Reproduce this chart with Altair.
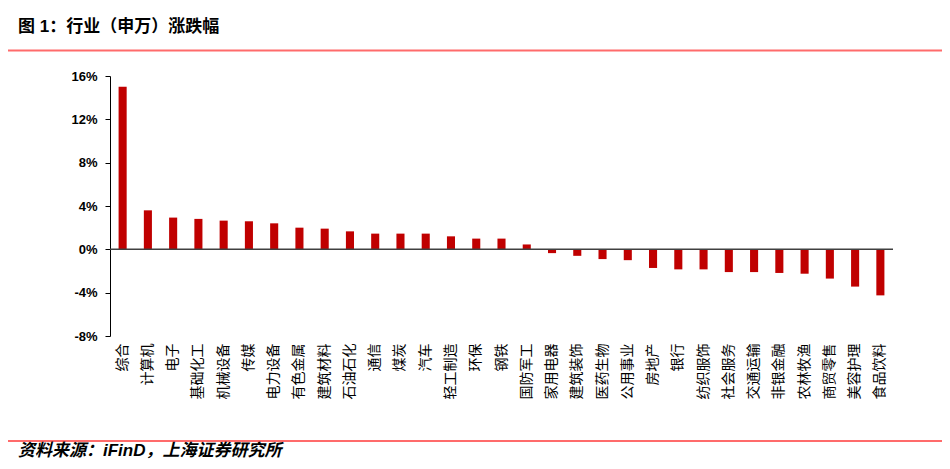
import altair as alt
import pandas as pd

CATEGORIES = ["综合", "计算机", "电子", "基础化工", "机械设备", "传媒", "电力设备", "有色金属",
              "建筑材料", "石油石化", "通信", "煤炭", "汽车", "轻工制造", "环保", "钢铁",
              "国防军工", "家用电器", "建筑装饰", "医药生物", "公用事业", "房地产", "银行",
              "纺织服饰", "社会服务", "交通运输", "非银金融", "农林牧渔", "商贸零售",
              "美容护理", "食品饮料"]
VALUES = [15.0, 3.6, 2.93, 2.81, 2.65, 2.59, 2.4, 2.0, 1.91, 1.66, 1.45, 1.45, 1.45,
          1.2, 0.99, 0.99, 0.45, -0.35, -0.6, -0.9, -1.0, -1.72, -1.85, -1.85, -2.1,
          -2.1, -2.18, -2.25, -2.7, -3.44, -4.25]
Y_TICKS = [-8, -4, 0, 4, 8, 12, 16]
TITLE = "图 1：行业（申万）涨跌幅"
SOURCE = "资料来源：iFinD，上海证券研究所"

df = pd.DataFrame({"cat": CATEGORIES, "val": VALUES})
one = pd.DataFrame({"a": [0]})

CJK = "Noto Sans CJK SC"
LAT = "Liberation Sans"
MIX = "Liberation Sans, Noto Sans CJK SC"

yscale = alt.Scale(domain=[-8, 16], nice=False, zero=False)

bars = alt.Chart(df).mark_bar(color="#C00000").encode(
    x=alt.X("cat:N", sort=None, title=None,
            scale=alt.Scale(paddingInner=0.68, paddingOuter=0.34),
            axis=alt.Axis(labelAngle=270, labelAlign="right", labelBaseline="middle",
                          domain=False, ticks=False, labelPadding=7,
                          labelFont=CJK, labelFontSize=14, labelColor="#000000",
                          labelOverlap=False)),
    y=alt.Y("val:Q", scale=yscale, title=None,
            axis=alt.Axis(values=Y_TICKS, labelExpr="datum.value + '%'",
                          labelFont=LAT, labelFontWeight="bold", labelFontSize=13,
                          labelColor="#000000", domainColor="#000000", tickColor="#000000",
                          tickSize=5, labelPadding=8, grid=False)),
)

zero = alt.Chart(one).mark_rule(color="#404040", strokeWidth=1.5).encode(
    y=alt.Y("a:Q", scale=yscale)
)

top_line = alt.Chart(one).mark_rule(color="#FF6B6B", strokeWidth=2).encode(
    x=alt.value(-104), x2=alt.value(835), y=alt.value(-25.5)
)
bottom_line = alt.Chart(one).mark_rule(color="#FF6B6B", strokeWidth=2).encode(
    x=alt.value(-104), x2=alt.value(835), y=alt.value(365)
)
title = alt.Chart(one).mark_text(align="left", baseline="middle", font=MIX,
                                 fontSize=17, fontWeight="bold", color="#000000").encode(
    x=alt.value(-92), y=alt.value(-49), text=alt.value(TITLE)
)
source = alt.Chart(one).mark_text(align="left", baseline="middle", font=MIX,
                                  fontSize=17, fontWeight="bold", fontStyle="italic",
                                  color="#000000").encode(
    x=alt.value(-92), y=alt.value(375), text=alt.value(SOURCE)
)

chart = alt.layer(bars, zero, top_line, bottom_line, title, source).properties(
    width=783, height=260,
    autosize=alt.AutoSizeParams(type="none"),
    padding={"left": 102, "top": 68, "right": 49, "bottom": 125},
).configure_view(stroke=None).configure_axis(grid=False)

chart.save("out.html", embed_options={"renderer": "svg", "actions": False})
